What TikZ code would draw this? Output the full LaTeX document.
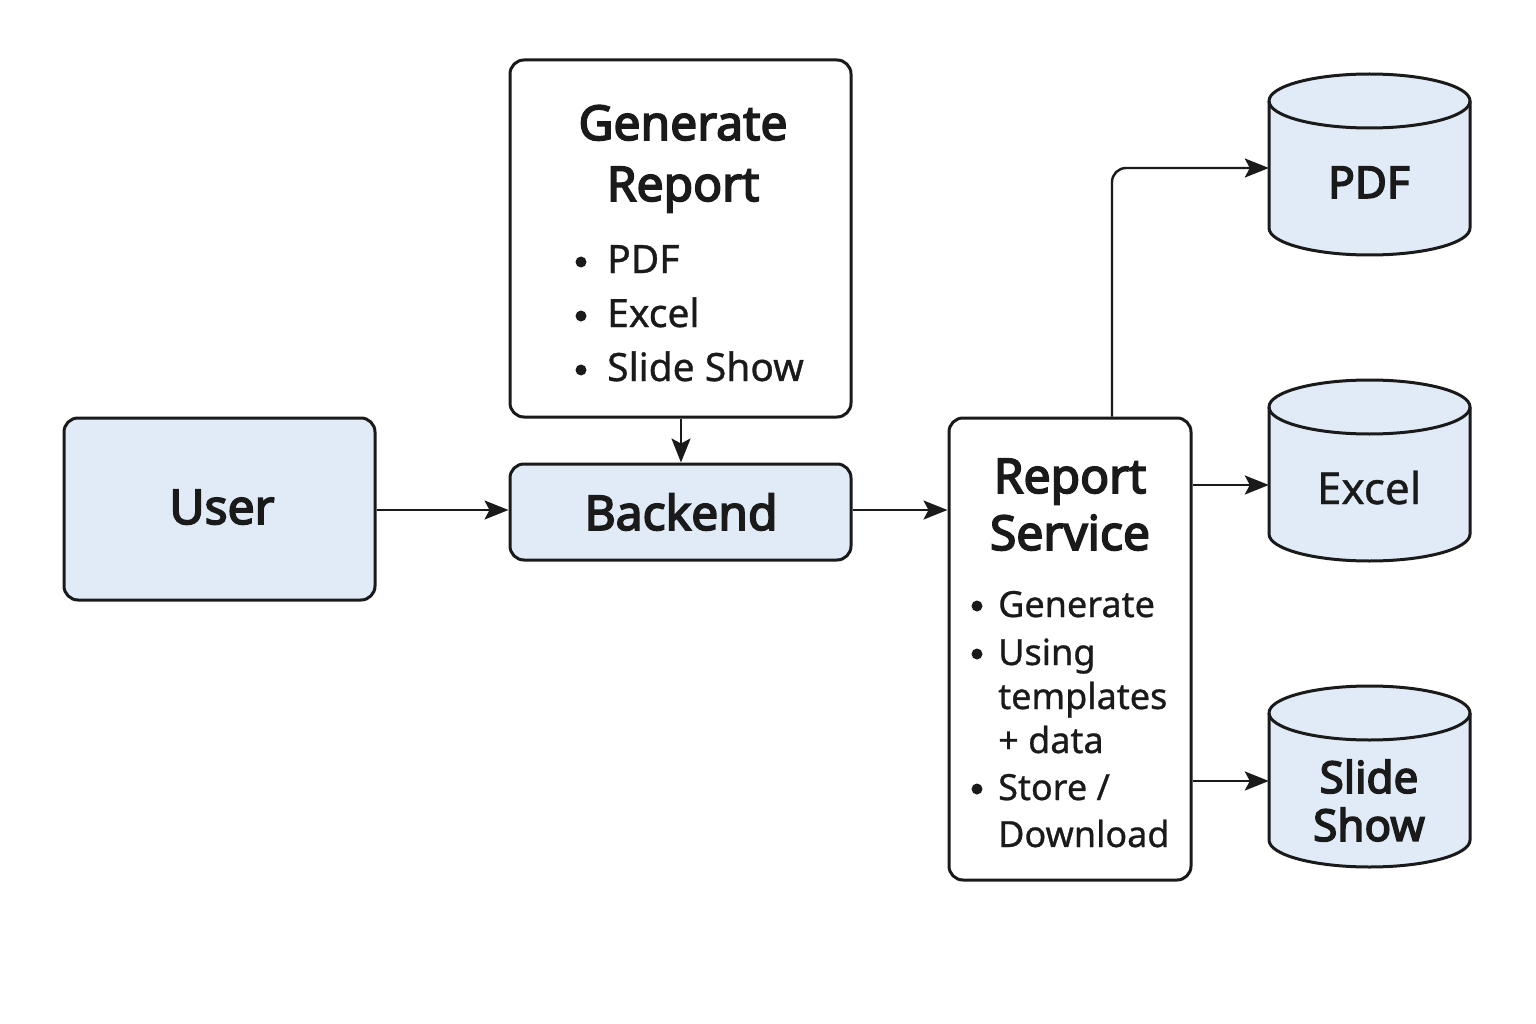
\documentclass[tikz,border=0pt]{standalone}
\usepackage{fontspec}
\setmainfont{Noto Sans}[FakeBold=0.8]
\newfontfamily\medfont{Noto Sans}[FakeBold=3.5]
\usetikzlibrary{arrows.meta,calc}
\definecolor{boxfill}{HTML}{E1EBF7}
\definecolor{ink}{HTML}{1A1A1A}
\tikzset{
  box/.style={draw=ink, line width=3pt, rounded corners=14pt, inner sep=0pt},
  bluebox/.style={box, fill=boxfill},
  whitebox/.style={box, fill=white},
  arr/.style={draw=ink, line width=2.4pt, -{Stealth[length=24pt,width=19pt,inset=5pt]}},
  ttl/.style={anchor=base, text=ink, font=\fontsize{48}{50}\selectfont\medfont, inner sep=0pt},
  blt/.style={anchor=base west, text=ink, inner sep=0pt},
  dot/.style={circle, fill=ink, inner sep=0pt, minimum size=11pt},
  cyl/.style={draw=ink, line width=3pt, fill=boxfill},
  ghost/.style={inner sep=0pt, minimum width=201pt, minimum height=181pt}
}
\begin{document}
\begin{tikzpicture}[x=1pt,y=-1pt]
\useasboundingbox (0,0) rectangle (1536,1024);
\fill[white] (0,0) rectangle (1536,1024);

% boxes
\node[whitebox, minimum width=341pt, minimum height=357pt] (gen) at (680.5,238.5) {};
\node[bluebox, minimum width=311pt, minimum height=182pt] (user) at (219.5,509) {};
\node[bluebox, minimum width=341pt, minimum height=96pt] (back) at (680.5,512) {};
\node[whitebox, minimum width=242pt, minimum height=462pt] (rs) at (1070,649) {};

% generate report text
\node[ttl] (g1) at (683,140) {Generate};
\node[ttl] (g2) at (683,201) {Report};
\node[dot] (gb1) at (581,262) {};
\node[dot] (gb2) at (581,316) {};
\node[dot] (gb3) at (581,370) {};
\begin{scope}[every node/.style={blt, font=\fontsize{39}{40}\selectfont}]
\node (gt1) at (607,273) {PDF};
\node (gt2) at (607,327) {Excel};
\node (gt3) at (607,381) {Slide Show};
\end{scope}

% user & backend
\node[ttl] (ut) at (222,524) {User};
\node[ttl] (bt) at (681,530) {Backend};

% report service text
\node[ttl] (r1) at (1070,493) {Report};
\node[ttl] (r2) at (1070,550) {Service};
\node[dot] (rb1) at (977,606) {};
\node[dot] (rb2) at (977,654) {};
\node[dot] (rb3) at (977,789) {};
\begin{scope}[every node/.style={blt, font=\fontsize{36}{38}\selectfont}]
\node (rt1) at (998,617) {Generate};
\node (rt2) at (998,665) {Using};
\node (rt3) at (998,709) {templates};
\node (rt4) at (998,753) {+ data};
\node (rt5) at (998,800) {Store /};
\node (rt6) at (998,847) {Download};
\end{scope}

% cylinders
\foreach \cy/\nm in {101/pdf,407/xls,713/sld}{
  \draw[cyl] (1269,\cy) -- (1269,\cy+127) arc[start angle=180,end angle=360,x radius=100.5pt,y radius=27pt]
     -- (1470,\cy) arc[start angle=0,end angle=180,x radius=100.5pt,y radius=27pt] -- cycle;
  \draw[draw=ink, line width=3pt] (1269,\cy) arc[start angle=180,end angle=360,x radius=100.5pt,y radius=27pt];
  \node[ghost] (\nm) at (1369.5,\cy+63.5) {};
}
\node[ttl, font=\fontsize{44}{46}\selectfont\medfont] (pt) at (1369,198) {PDF};
\node[ttl, font=\fontsize{44}{46}\selectfont] (xt) at (1369,504) {Excel};
\node[ttl, font=\fontsize{44}{46}\selectfont\medfont] (st1) at (1369,793) {Slide};
\node[ttl, font=\fontsize{44}{46}\selectfont\medfont] (st2) at (1369,841) {Show};

% connectors
\draw[arr] (user.east |- 0,510) -- (back.west |- 0,510);
\draw[arr] (gen.south -| 681,0) -- (back.north -| 681,0);
\draw[arr] (back.east |- 0,510) -- (rs.west |- 0,510);
\draw[arr, rounded corners=14pt] (rs.north -| 1112,0) -- (1112,168) -- (pdf.west |- 0,168);
\draw[arr] (rs.east |- 0,485) -- (xls.west |- 0,485);
\draw[arr] (rs.east |- 0,781) -- (sld.west |- 0,781);
\end{tikzpicture}
\end{document}
